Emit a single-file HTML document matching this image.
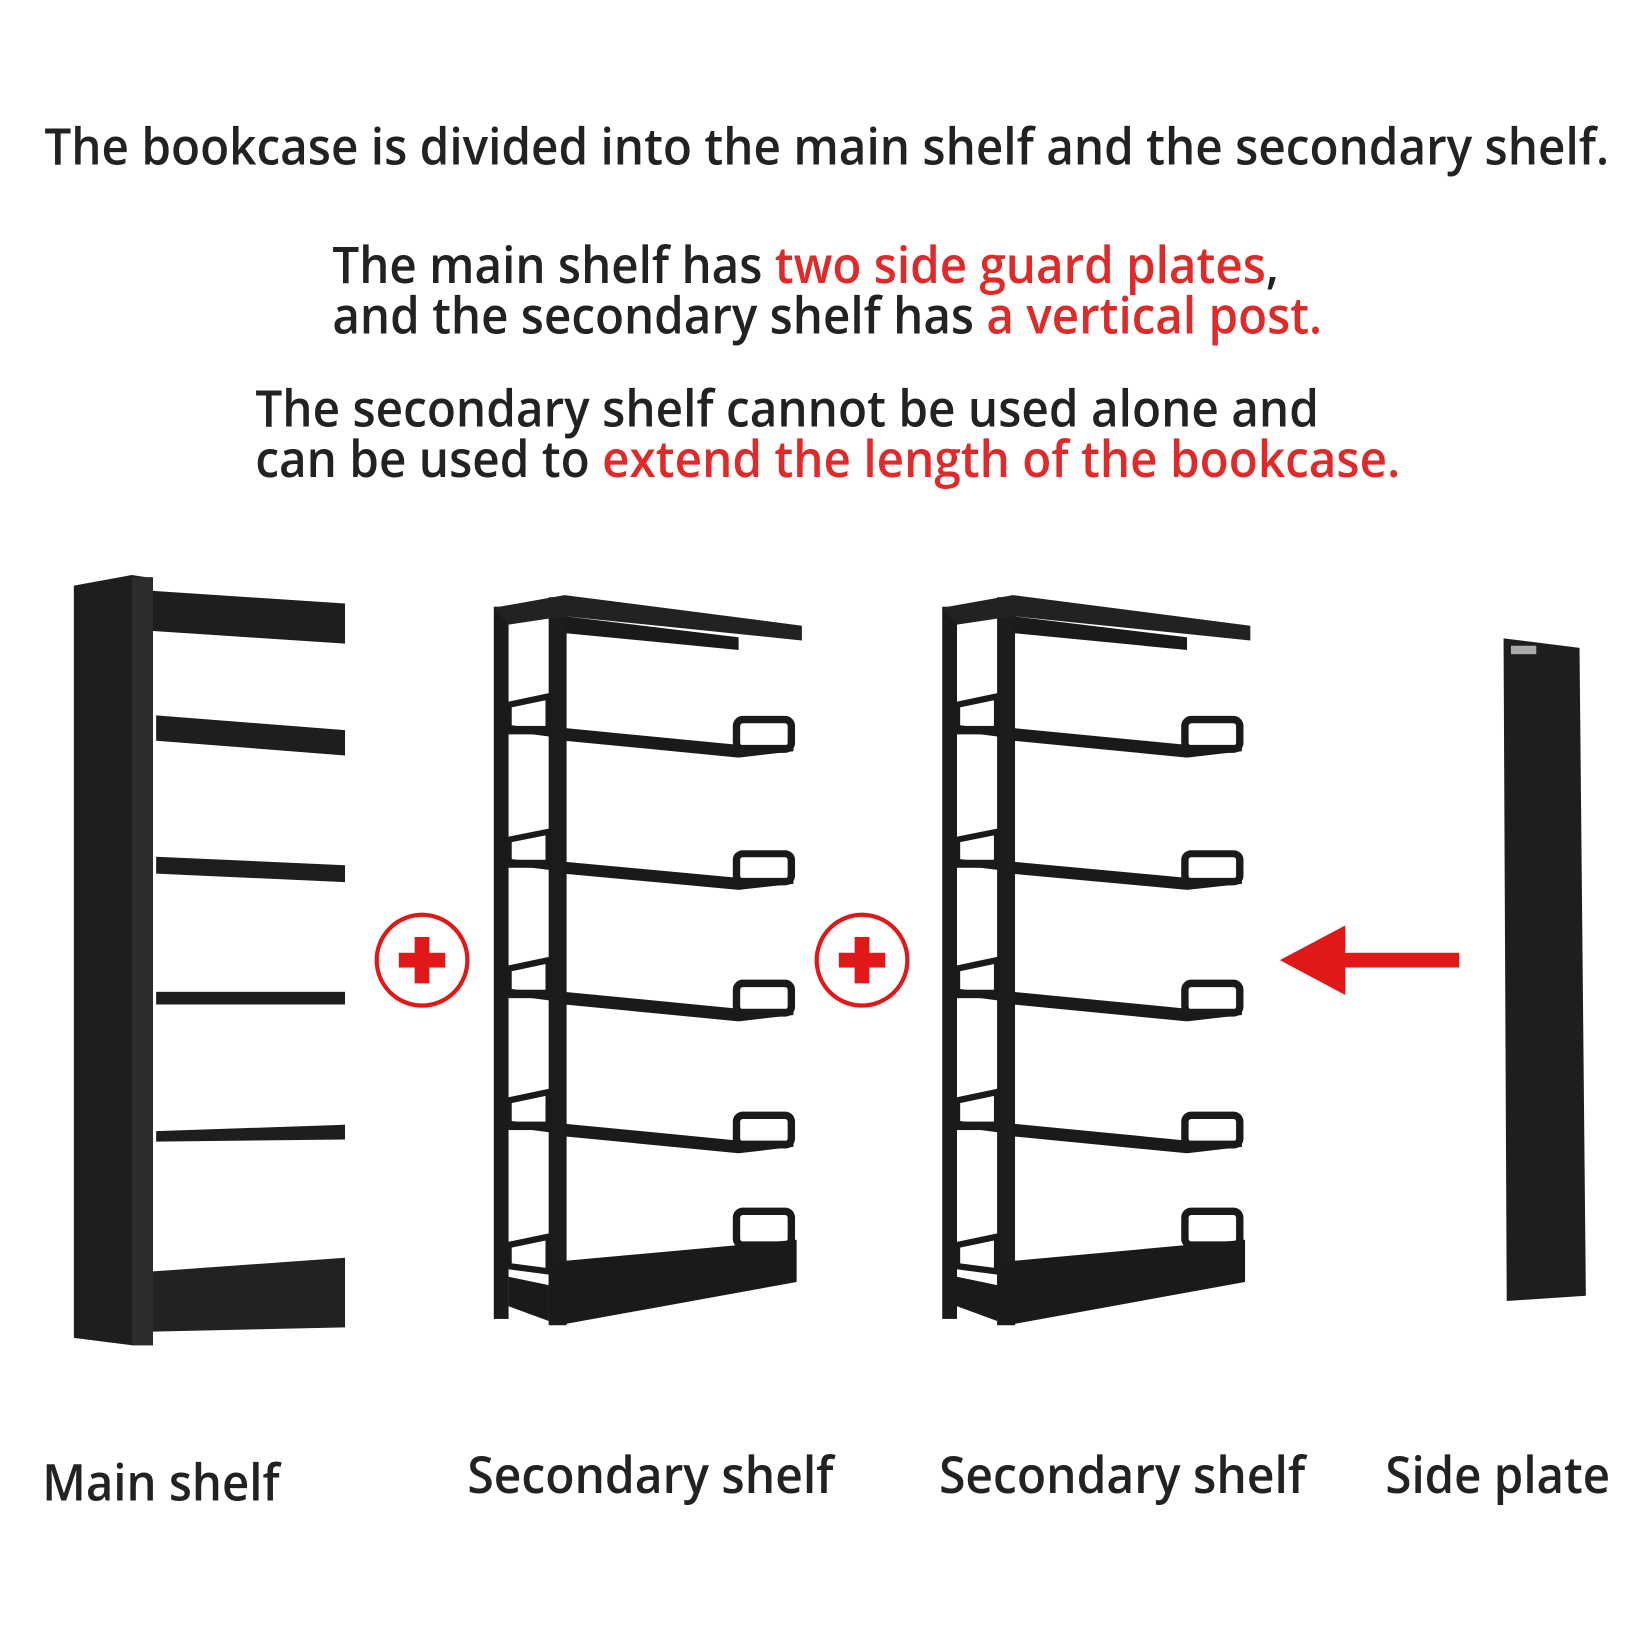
<!DOCTYPE html>
<html><head><meta charset="utf-8"><style>html,body{margin:0;padding:0;background:#fff}svg{display:block}</style></head>
<body>
<svg width="1646" height="1646" viewBox="0 0 1560 1560" xmlns="http://www.w3.org/2000/svg">
<defs>
<g id="sec">
  <rect x="468" y="575" width="14" height="675" fill="#1a1a1a"/>
  <rect x="520" y="566" width="17" height="690" fill="#1c1c1c"/>
  <polygon points="468,576 535,564 760,593 760,607 535,584 482,592" fill="#222"/>
  <polygon points="535,584 700,604 700,616 535,600" fill="#1a1a1a"/>
  <g id="lvl">
    <polygon points="535,690 700,706 752,706 752,712 700,718 535,702" fill="#1a1a1a"/>
    <rect x="698" y="682" width="52" height="28" rx="6" fill="none" stroke="#1a1a1a" stroke-width="7"/>
    <path d="M482 668 L520 660 L520 695 L482 690 Z" fill="none" stroke="#1a1a1a" stroke-width="6"/>
    <rect x="482" y="688" width="38" height="8" fill="#1a1a1a"/>
  </g>
  <use href="#lvl" transform="translate(0,128) scale(1,0.95) translate(0,35)"/>
  <use href="#lvl" transform="translate(0,250)"/>
  <use href="#lvl" transform="translate(0,375) "/>
  <polygon points="520,1200 535,1195 755,1175 755,1215 535,1255 520,1250" fill="#1a1a1a"/>
  <rect x="698" y="1148" width="52" height="32" rx="6" fill="none" stroke="#1a1a1a" stroke-width="7"/>
  <path d="M482 1180 L520 1172 L520 1205 L482 1200 Z" fill="none" stroke="#1a1a1a" stroke-width="6"/>
  <polygon points="482,1210 520,1218 520,1252 482,1238" fill="#1a1a1a"/>
</g>
</defs>

<g font-family="'Open Sans','Liberation Sans',sans-serif" fill="#222" font-size="48" font-weight="600">
  <text x="42" y="156" textLength="1483" lengthAdjust="spacingAndGlyphs">The bookcase is divided into the main shelf and the secondary shelf.</text>
  <text x="315" y="268" textLength="897" lengthAdjust="spacingAndGlyphs">The main shelf has <tspan fill="#e02a2a">two side guard plates</tspan>,</text>
  <text x="315" y="316" textLength="938" lengthAdjust="spacingAndGlyphs">and the secondary shelf has <tspan fill="#e02a2a">a vertical post.</tspan></text>
  <text x="242" y="404" textLength="1008" lengthAdjust="spacingAndGlyphs">The secondary shelf cannot be used alone and</text>
  <text x="242" y="452" textLength="1085" lengthAdjust="spacingAndGlyphs">can be used to <tspan fill="#e02a2a">extend the length of the bookcase.</tspan></text>
  <text x="40" y="1422" textLength="225" lengthAdjust="spacingAndGlyphs">Main shelf</text>
  <text x="443" y="1415" textLength="347" lengthAdjust="spacingAndGlyphs">Secondary shelf</text>
  <text x="890" y="1415" textLength="347" lengthAdjust="spacingAndGlyphs">Secondary shelf</text>
  <text x="1313" y="1415" textLength="213" lengthAdjust="spacingAndGlyphs">Side plate</text>
</g>

<polygon points="70,555 125,545 145,548 145,1275 125,1275 70,1268" fill="#1e1e1e"/>
<rect x="125" y="547" width="20" height="728" fill="#2c2c2c"/>
<polygon points="145,560 327,572 327,610 145,598" fill="#1e1e1e"/>
<polygon points="148,678 327,692 327,716 148,702" fill="#1e1e1e"/>
<polygon points="148,812 327,820 327,836 148,828" fill="#1e1e1e"/>
<rect x="148" y="940" width="179" height="12" fill="#1e1e1e"/>
<polygon points="148,1072 327,1066 327,1080 148,1082" fill="#1e1e1e"/>
<polygon points="145,1205 327,1192 327,1258 145,1262" fill="#222"/>

<use href="#sec"/>
<use href="#sec" transform="translate(425,0)"/>

<polygon points="1425,605 1497,614 1503,1228 1428,1233" fill="#1e1e1e"/>
<rect x="1432" y="612" width="24" height="8" fill="#aaa"/>

<g stroke="#e01818" fill="none" stroke-width="4">
  <circle cx="400" cy="910" r="43"/>
  <circle cx="817" cy="910" r="43"/>
</g>
<g fill="#e01818">
  <rect x="378" y="903" width="44" height="14"/><rect x="393" y="888" width="14" height="44"/>
  <rect x="795" y="903" width="44" height="14"/><rect x="810" y="888" width="14" height="44"/>
</g>
<rect x="1270" y="903" width="113" height="14" fill="#e01818"/>
<polygon points="1213,910 1275,877 1275,943" fill="#e01818"/>
</svg>
</body></html>
